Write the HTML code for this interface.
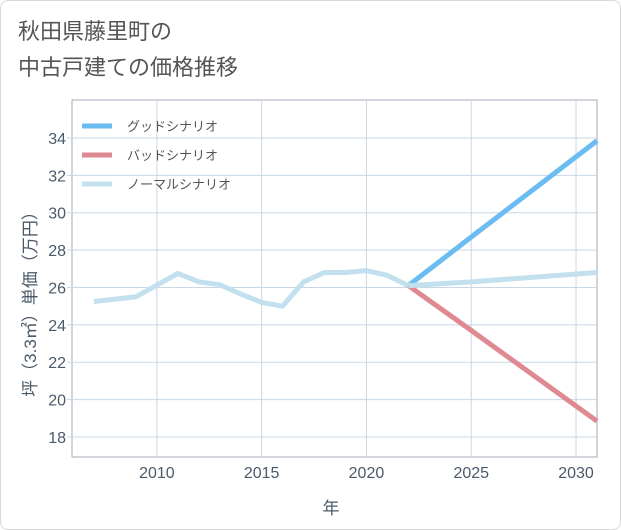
<!DOCTYPE html>
<html><head><meta charset="utf-8"><style>
body{margin:0;background:#fff;}
.card{position:absolute;left:0;top:0;width:619px;height:528px;border:1px solid #d8d8d8;border-radius:8px;background:#fff;}
.title{position:absolute;left:18px;top:14px;font:22px "Liberation Sans","Noto Sans CJK JP",sans-serif;color:#555;line-height:36px;}
svg{position:absolute;left:0;top:0;}
text{font-family:"Liberation Sans","Noto Sans CJK JP",sans-serif;}
</style></head><body>
<div class="card"></div>
<div class="title">秋田県藤里町の<br>中古戸建ての価格推移</div>
<svg id="c" width="621" height="530"></svg>
<script>
const years=[2007,2009,2011,2012,2013,2014,2015,2016,2017,2018,2019,2020,2021,2022];
const hist=[25.25,25.5,26.75,26.3,26.15,25.65,25.2,25.0,26.3,26.8,26.8,26.9,26.65,26.1];
const projYears=[2022,2025,2031];
const good=[26.1,28.7,33.85];
const bad=[26.1,23.7,18.85];
const normal=[26.1,26.3,26.8];
const xTicks=[2010,2015,2020,2025,2030];
const yTicks=[18,20,22,24,26,28,30,32,34];
const L=72,R=597,T=100,B=457;
const x0=2005.95,x1=2031,y0=16.93,y1=36.03;
const X=v=>L+(v-x0)/(x1-x0)*(R-L);
const Y=v=>B-(v-y0)/(y1-y0)*(B-T);
const svg=document.getElementById('c');const NS='http://www.w3.org/2000/svg';
function mk(t,a,p){const e=document.createElementNS(NS,t);for(const k in a)e.setAttribute(k,a[k]);(p||svg).appendChild(e);return e;}
mk('rect',{x:L,y:T,width:R-L,height:B-T,fill:'#fff',stroke:'#aab',"stroke-width":1});
xTicks.forEach(v=>{const g=mk('line',{x1:X(v),x2:X(v),y1:T,y2:B,stroke:'#c8d8e6'});

const t=mk('text',{x:X(v),y:478,"text-anchor":'middle',"font-size":16,fill:'#4a5a6a'});t.textContent=v;
});
yTicks.forEach(v=>{const g=mk('line',{x1:L-5,x2:R,y1:Y(v),y2:Y(v),stroke:'#c8d8e6'});

const t=mk('text',{x:L-6,y:Y(v)+6,"text-anchor":'end',"font-size":16,fill:'#4a5a6a'});t.textContent=v;
});
function line(xs,ys,col,name){const p=mk('polyline',{points:xs.map((v,i)=>X(v)+','+Y(ys[i])).join(' '),fill:'none',stroke:col,"stroke-width":5,"stroke-linejoin":'round'});
}
line(projYears,good,'#6bbcf0','good-scenario-line');
line(projYears,bad,'#df8a92','bad-scenario-line');
line(years,hist,'#c2e0ee','historical-line');
line(projYears,normal,'#c2e0ee','normal-scenario-line');
const leg=[['グッドシナリオ','#6bbcf0'],['バッドシナリオ','#df8a92'],['ノーマルシナリオ','#c2e0ee']];
leg.forEach((d,i)=>{const y=126+i*29;
const l=mk('line',{x1:82,x2:112,y1:y,y2:y,stroke:d[1],"stroke-width":5});

const t=mk('text',{x:127,y:y+5,"font-size":13,fill:'#555'});t.textContent=d[0];
});
const xt=mk('text',{x:331,y:514,"text-anchor":'middle',"font-size":17,fill:'#4a5a6a'});xt.textContent='年';

const yt=mk('text',{x:0,y:0,"text-anchor":'middle',"font-size":17,fill:'#4a5a6a',transform:'translate(36,300) rotate(-90)'});yt.textContent='坪（3.3㎡）単価（万円）';

</script>
</body></html>
